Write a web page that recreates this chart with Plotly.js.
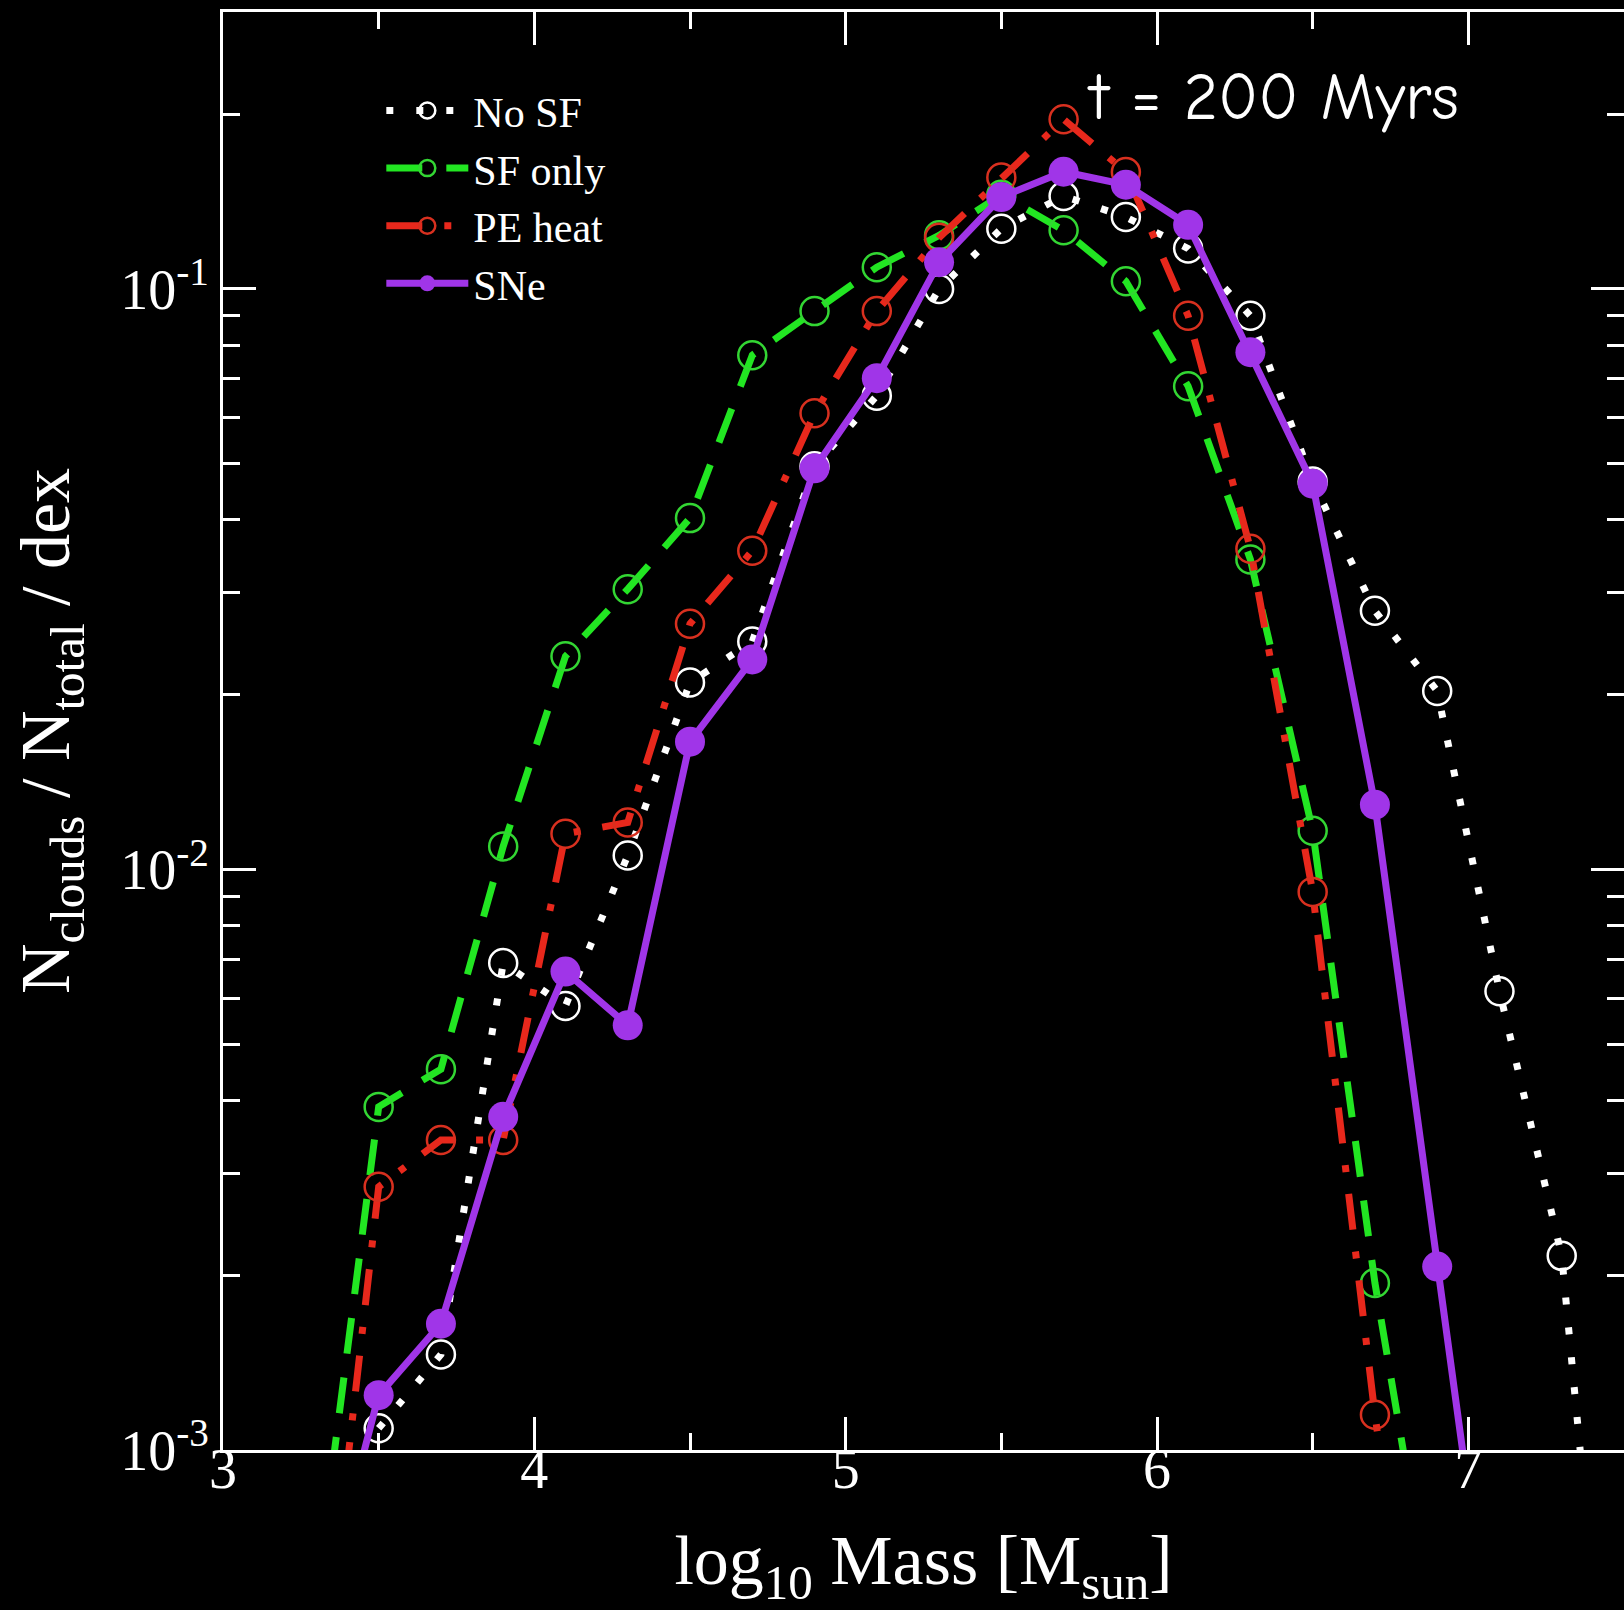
<!DOCTYPE html>
<html><head><meta charset="utf-8">
<script src="https://cdn.plot.ly/plotly-3.0.1.min.js"></script>
<style>html,body{margin:0;padding:0;background:#000;} #chart{width:1624px;height:1610px;}</style>
</head><body><div id="chart"></div>
<script>
// log10 mass bins
const massBins = [3.3, 3.5, 3.7, 3.9, 4.1, 4.3, 4.5, 4.7, 4.9, 5.1, 5.3, 5.5, 5.7, 5.9, 6.1, 6.3, 6.5, 6.7, 6.9, 7.1, 7.3, 7.5];
const noSF   = [null, 1.09e-3, 1.46e-3, 6.9e-3, 5.82e-3, 1.057e-2, 0.021, 0.0247, 0.0495, 0.0655, 0.100, 0.127, 0.1446, 0.1330, 0.1174, 0.0899, 0.0466, 0.0279, 0.0203, 6.17e-3, 2.16e-3, 1.6e-4];
const sfOnly = [5.7e-4, 3.9e-3, 4.53e-3, 1.096e-2, 0.0233, 0.0304, 0.0403, 0.0769, 0.0916, 0.109, 0.1237, 0.1453, 0.1262, 0.1031, 0.068, 0.0342, 0.01166, 1.94e-3, 4.5e-4, null, null, null];
const peHeat = [3.2e-4, 2.84e-3, 3.42e-3, 3.42e-3, 1.152e-2, 1.205e-2, 0.0265, 0.0354, 0.0611, 0.0916, 0.1225, 0.1556, 0.196, 0.1590, 0.0899, 0.0357, 9.15e-3, 1.15e-3, 2.0e-4, null, null, null];
const sne    = [4.8e-4, 1.243e-3, 1.65e-3, 3.75e-3, 6.67e-3, 5.39e-3, 0.0166, 0.0230, 0.0491, 0.0702, 0.1112, 0.1440, 0.1592, 0.1512, 0.129, 0.0778, 0.0462, 0.01293, 2.07e-3, 3.4e-4, null, null];
const seriesNames = ['No SF', 'SF only', 'PE heat', 'SNe'];
const xTickVals = [3, 4, 5, 6, 7];
const xTickText = ['3', '4', '5', '6', '7'];
const yTickVals = [0.001, 0.01, 0.1];
const yTickText = ['10<sup>-3</sup>', '10<sup>-2</sup>', '10<sup>-1</sup>'];

const yMinor = [];
[-3, -2, -1].forEach(e => { for (let d = 2; d <= 9; d++) { const v = d * Math.pow(10, e); if (v <= 0.3) yMinor.push(v); } });

const serif = 'Liberation Serif, Times New Roman, serif';

const traces = [
  { x: massBins, y: noSF, name: seriesNames[0], mode: 'lines+markers',
    line: { color: '#ffffff', width: 7, dash: '7px,23px' },
    marker: { symbol: 'circle-open', size: 28, color: '#ffffff', line: { width: 2.5 } } },
  { x: massBins, y: sfOnly, name: seriesNames[1], mode: 'lines+markers',
    line: { color: '#22e622', width: 7, dash: '36px,24px' },
    marker: { symbol: 'circle-open', size: 28, color: '#33d633', line: { width: 2.5 } } },
  { x: massBins, y: peHeat, name: seriesNames[2], mode: 'lines+markers',
    line: { color: '#e8281c', width: 7, dash: '36px,22px,7px,22px' },
    marker: { symbol: 'circle-open', size: 28, color: '#d8301f', line: { width: 2.5 } } },
  { x: massBins, y: sne, name: seriesNames[3], mode: 'lines+markers',
    line: { color: '#a035e8', width: 7 },
    marker: { symbol: 'circle', size: 30, color: '#a035e8' } }
];

const axisCommon = {
  ticks: 'inside', ticklen: 33, tickwidth: 3, tickcolor: '#ffffff',
  showline: true, linecolor: '#ffffff', linewidth: 3, mirror: 'ticks',
  showgrid: false, zeroline: false,
  tickfont: { family: serif, size: 56, color: '#ffffff' }
};

const layout = {
  width: 1624, height: 1610,
  paper_bgcolor: '#000000', plot_bgcolor: '#000000',
  margin: { l: 223, r: 0, t: 12, b: 160 },
  font: { family: serif, color: '#ffffff' },
  showlegend: true,
  legend: { x: 0.113, y: 0.955, xanchor: 'left', yanchor: 'top', bgcolor: 'rgba(0,0,0,0)',
            font: { family: serif, size: 42, color: '#ffffff' }, itemwidth: 82, tracegroupgap: 0 },
  xaxis: Object.assign({}, axisCommon, {
    range: [3, 7.5], tickmode: 'array', tickvals: xTickVals, ticktext: xTickText,
    ticklabelstandoff: -32,
    minor: { dtick: 0.5, ticks: 'inside', ticklen: 17, tickwidth: 3, tickcolor: '#ffffff', showgrid: false },
    title: { text: 'log<sub>10</sub> Mass [M<sub>sun</sub>]', standoff: 58, font: { family: serif, size: 70, color: '#ffffff' } }
  }),
  yaxis: Object.assign({}, axisCommon, {
    type: 'log', range: [-3, Math.log10(0.3)], tickmode: 'array', tickvals: yTickVals, ticktext: yTickText,
    minor: { tickmode: 'array', tickvals: yMinor, ticks: 'inside', ticklen: 17, tickwidth: 3, tickcolor: '#ffffff', showgrid: false },
    title: { text: 'N<sub>clouds</sub> / N<sub>total</sub> / dex', standoff: 28, font: { family: serif, size: 70, color: '#ffffff' } }
  }),
  annotations: [{
    text: 't = 200 Myrs', xref: 'paper', yref: 'paper', x: 0.615, y: 0.94, xanchor: 'left', yanchor: 'middle',
    showarrow: false, font: { family: 'Comic Sans MS, Comic Neue, DejaVu Sans, sans-serif', size: 66, color: '#ffffff' }
  }]
};

Plotly.newPlot('chart', traces, layout, { displayModeBar: false, staticPlot: true });
</script>
</body></html>
